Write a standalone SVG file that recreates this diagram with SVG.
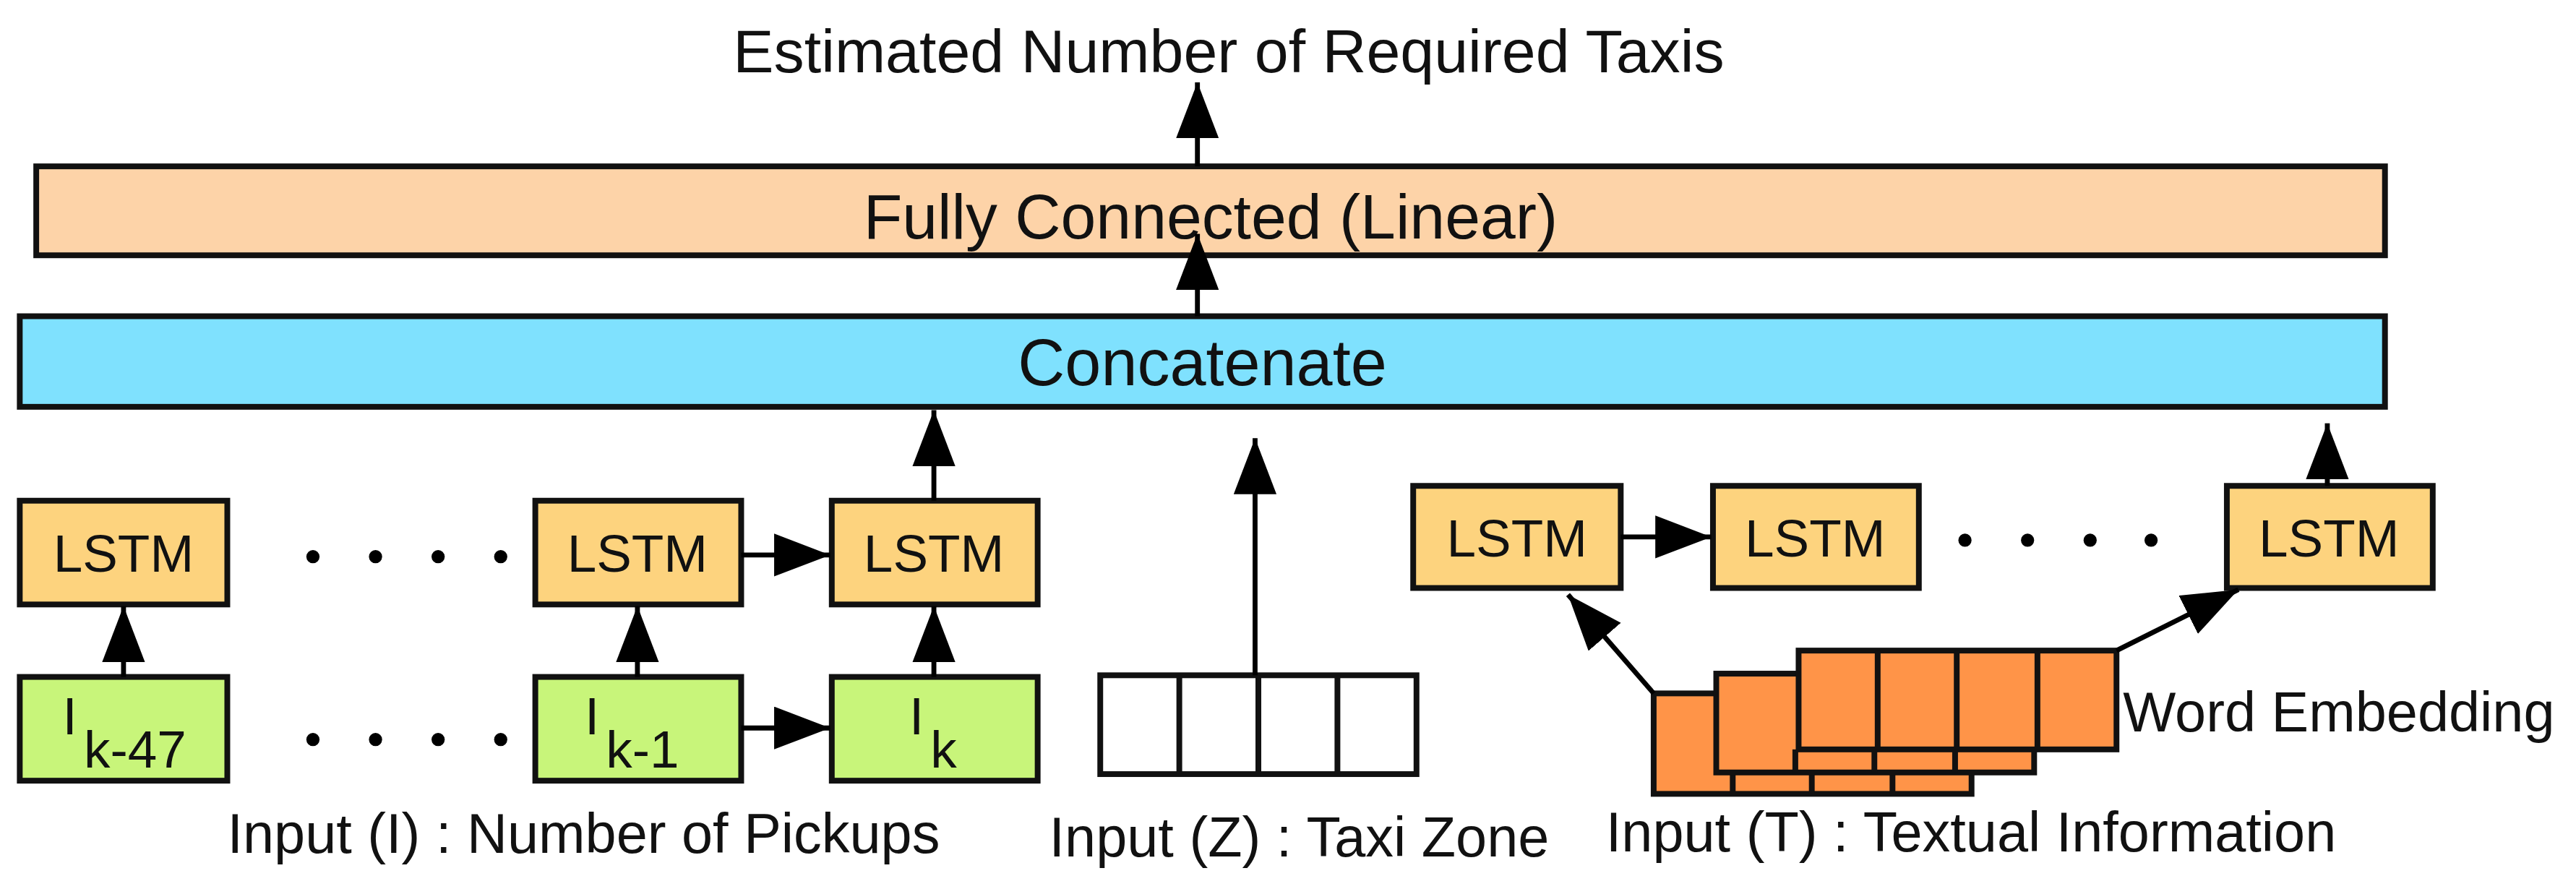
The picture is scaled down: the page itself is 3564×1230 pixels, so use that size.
<svg xmlns="http://www.w3.org/2000/svg" width="3564" height="1230" viewBox="0 0 3564 1230">
<defs>
<marker id="ah" markerUnits="userSpaceOnUse" markerWidth="36" markerHeight="28" refX="34" refY="13" orient="auto"><path d="M0,0 L34,13 L0,26 Z" fill="#000"/></marker>
<style>
text{font-family:"Liberation Sans",Arial,sans-serif;fill:#111}
.b{stroke:#111;stroke-width:3.5}
.l{fill:#FDD37E}.g{fill:#C8F57A}.o{fill:#FF9448}
.c{stroke:#000;stroke-width:3;fill:none;marker-end:url(#ah)}
.t{font-size:32px;text-anchor:middle}
.s{font-size:34px}
</style>
</defs>
<rect width="3564" height="1230" fill="#fff"/>
<g transform="scale(2.2788)">
<g id="title"><text x="746" y="44" font-size="37" text-anchor="middle">Estimated Number of Required Taxis</text></g>
<g id="fc"><rect class="b" x="22" y="101" width="1426" height="54" fill="#FDD3A8"/><text x="735" y="145" font-size="38.5" text-anchor="middle">Fully Connected (Linear)</text></g>
<g id="concat"><rect class="b" x="12" y="192" width="1436" height="55" fill="#7FE1FE"/><text x="730" y="234" font-size="39.5" text-anchor="middle">Concatenate</text></g>
<g id="lstmL1"><rect class="b l" x="12" y="304" width="126" height="63"/><text class="t" x="75" y="347">LSTM</text></g>
<g id="lstmL2"><rect class="b l" x="325" y="304" width="125" height="63"/><text class="t" x="387" y="347">LSTM</text></g>
<g id="lstmL3"><rect class="b l" x="505" y="304" width="125" height="63"/><text class="t" x="567" y="347">LSTM</text></g>
<g id="in1"><rect class="b g" x="12" y="411" width="126" height="63"/><text x="38" y="446" font-size="32">I<tspan dx="4" dy="20">k-47</tspan></text></g>
<g id="in2"><rect class="b g" x="325" y="411" width="125" height="63"/><text x="355" y="446" font-size="32">I<tspan dx="4" dy="20">k-1</tspan></text></g>
<g id="in3"><rect class="b g" x="505" y="411" width="125" height="63"/><text x="552" y="446" font-size="32">I<tspan dx="4" dy="20">k</tspan></text></g>
<g id="dots" fill="#000">
<circle cx="190" cy="338" r="4"/><circle cx="228" cy="338" r="4"/><circle cx="266" cy="338" r="4"/><circle cx="304" cy="338" r="4"/>
<circle cx="190" cy="449" r="4"/><circle cx="228" cy="449" r="4"/><circle cx="266" cy="449" r="4"/><circle cx="304" cy="449" r="4"/>
<circle cx="1193" cy="328" r="4"/><circle cx="1231" cy="328" r="4"/><circle cx="1269" cy="328" r="4"/><circle cx="1306" cy="328" r="4"/>
</g>
<g id="zone" class="b" fill="#fff"><rect x="668" y="410" width="192" height="60"/><line x1="716" y1="410" x2="716" y2="470"/><line x1="764" y1="410" x2="764" y2="470"/><line x1="812" y1="410" x2="812" y2="470"/></g>
<g id="lstmR1"><rect class="b l" x="858" y="295" width="126" height="62"/><text class="t" x="921" y="338">LSTM</text></g>
<g id="lstmR2"><rect class="b l" x="1040" y="295" width="125" height="62"/><text class="t" x="1102" y="338">LSTM</text></g>
<g id="lstmR3"><rect class="b l" x="1352" y="295" width="125" height="62"/><text class="t" x="1414" y="338">LSTM</text></g>
<g id="embed" class="b">
<rect class="o" x="1004" y="421" width="193" height="61"/><line x1="1052" y1="469" x2="1052" y2="482"/><line x1="1100" y1="469" x2="1100" y2="482"/><line x1="1149" y1="469" x2="1149" y2="482"/>
<rect class="o" x="1042" y="409" width="193" height="60"/><line x1="1090" y1="455" x2="1090" y2="469"/><line x1="1138" y1="455" x2="1138" y2="469"/><line x1="1187" y1="455" x2="1187" y2="469"/>
<rect class="o" x="1092" y="395" width="193" height="60"/><line x1="1140" y1="395" x2="1140" y2="455"/><line x1="1188" y1="395" x2="1188" y2="455"/><line x1="1237" y1="395" x2="1237" y2="455"/>
</g>
<g id="labels">
<text class="s" x="138" y="518">Input (I) : Number of Pickups</text>
<text class="s" x="637" y="520">Input (Z) : Taxi Zone</text>
<text class="s" x="975" y="517">Input (T) : Textual Information</text>
<text class="s" x="1289" y="444">Word Embedding</text>
</g>
<g id="connectors">
<line class="c" x1="727" y1="101" x2="727" y2="50"/>
<line class="c" x1="727" y1="192" x2="727" y2="142"/>
<line class="c" x1="75" y1="411" x2="75" y2="368"/>
<line class="c" x1="387" y1="411" x2="387" y2="368"/>
<line class="c" x1="567" y1="411" x2="567" y2="368"/>
<line class="c" x1="450" y1="337" x2="504" y2="337"/>
<line class="c" x1="450" y1="442" x2="504" y2="442"/>
<line class="c" x1="567" y1="304" x2="567" y2="249"/>
<line class="c" x1="762" y1="410" x2="762" y2="266"/>
<line class="c" x1="984" y1="326" x2="1039" y2="326"/>
<line class="c" x1="1413" y1="295" x2="1413" y2="257"/>
<line class="c" x1="1004" y1="421" x2="952" y2="361"/>
<line class="c" x1="1285" y1="395" x2="1359" y2="358"/>
</g>
</g>
</svg>
